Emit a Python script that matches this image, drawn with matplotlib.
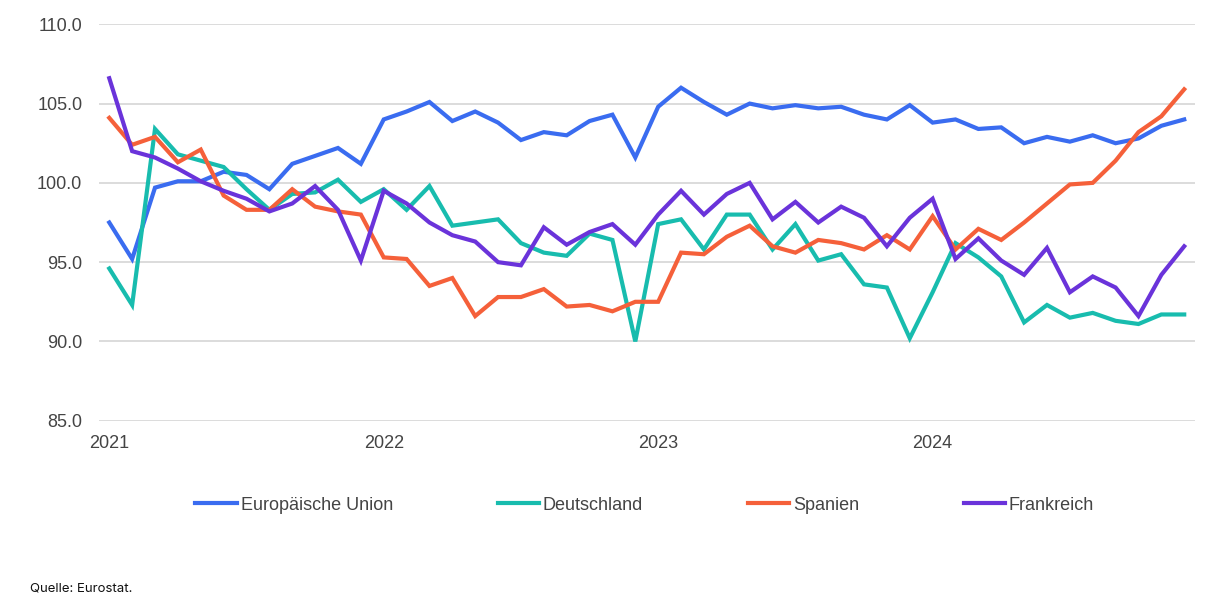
import matplotlib.pyplot as plt
import numpy as np

# monthly values Jan 2021 - Dec 2024
months = np.arange(48)
year_ticks = [0, 12, 24, 36]
year_labels = ['2021', '2022', '2023', '2024']

eu = [97.5, 95.2, 99.7, 100.1, 100.1, 100.7, 100.5, 99.6, 101.2, 101.7, 102.2, 101.2,
      104.0, 104.5, 105.1, 103.9, 104.5, 103.8, 102.7, 103.2, 103.0, 103.9, 104.3, 101.6,
      104.8, 106.0, 105.1, 104.3, 105.0, 104.7, 104.9, 104.7, 104.8, 104.3, 104.0, 104.9,
      103.8, 104.0, 103.4, 103.5, 102.5, 102.9, 102.6, 103.0, 102.5, 102.8, 103.6, 104.0]

de = [94.6, 92.3, 103.4, 101.8, 101.4, 101.0, 99.6, 98.3, 99.3, 99.4, 100.2, 98.8,
      99.6, 98.3, 99.8, 97.3, 97.5, 97.7, 96.2, 95.6, 95.4, 96.8, 96.4, 90.0,
      97.4, 97.7, 95.8, 98.0, 98.0, 95.8, 97.4, 95.1, 95.5, 93.6, 93.4, 90.2,
      93.1, 96.2, 95.3, 94.1, 91.2, 92.3, 91.5, 91.8, 91.3, 91.1, 91.7, 91.7]

es = [104.1, 102.4, 102.9, 101.3, 102.1, 99.2, 98.3, 98.3, 99.6, 98.5, 98.2, 98.0,
      95.3, 95.2, 93.5, 94.0, 91.6, 92.8, 92.8, 93.3, 92.2, 92.3, 91.9, 92.5,
      92.5, 95.6, 95.5, 96.6, 97.3, 96.0, 95.6, 96.4, 96.2, 95.8, 96.7, 95.8,
      97.9, 95.8, 97.1, 96.4, 97.5, 98.7, 99.9, 100.0, 101.4, 103.2, 104.2, 105.9]

fr = [106.6, 102.0, 101.6, 100.9, 100.1, 99.5, 99.0, 98.2, 98.7, 99.8, 98.3, 95.1,
      99.5, 98.7, 97.5, 96.7, 96.3, 95.0, 94.8, 97.2, 96.1, 96.9, 97.4, 96.1,
      98.0, 99.5, 98.0, 99.3, 100.0, 97.7, 98.8, 97.5, 98.5, 97.8, 96.0, 97.8,
      99.0, 95.2, 96.5, 95.1, 94.2, 95.9, 93.1, 94.1, 93.4, 91.6, 94.2, 96.0]

series = [('Europäische Union', eu, '#3a6cf0'),
          ('Deutschland', de, '#18bcae'),
          ('Spanien', es, '#f5603a'),
          ('Frankreich', fr, '#6a33da')]

plt.rcParams['font.family'] = ['Liberation Sans', 'DejaVu Sans']

fig = plt.figure(figsize=(12.28, 6), dpi=100)
ax = fig.add_axes([0.0806, 0.2988, 0.8925, 0.6607])

for name, vals, col in series:
    ax.plot(months, vals, color=col, lw=3, label=name, solid_joinstyle='miter')

ax.set_xlim(-0.45, 47.47)
ax.set_ylim(85, 110)
ax.set_yticks([85, 90, 95, 100, 105, 110])
ax.set_yticklabels(['85.0', '90.0', '95.0', '100.0', '105.0', '110.0'])
ax.set_xticks(year_ticks)
ax.set_xticklabels(year_labels)
ax.tick_params(axis='both', length=0, labelsize=13, labelcolor='#444444')
ax.tick_params(axis='y', pad=12)
ax.tick_params(axis='x', pad=10)
ax.grid(axis='y', color='#d9d9d9', lw=1.3)
ax.set_axisbelow(True)
for s in ax.spines.values():
    s.set_visible(False)

fig.legend(loc='center', bbox_to_anchor=(0.525, 0.158), ncol=4, frameon=False,
           fontsize=13, handlelength=2.3, handletextpad=0.2, columnspacing=5.8,
           labelcolor='#444444')

fig.text(0.0245, 0.02, 'Quelle: Eurostat.', fontsize=9.5, color='#111111',
         family=['Inter', 'DejaVu Sans'], va='center')

fig.savefig('out.png', dpi=100)
